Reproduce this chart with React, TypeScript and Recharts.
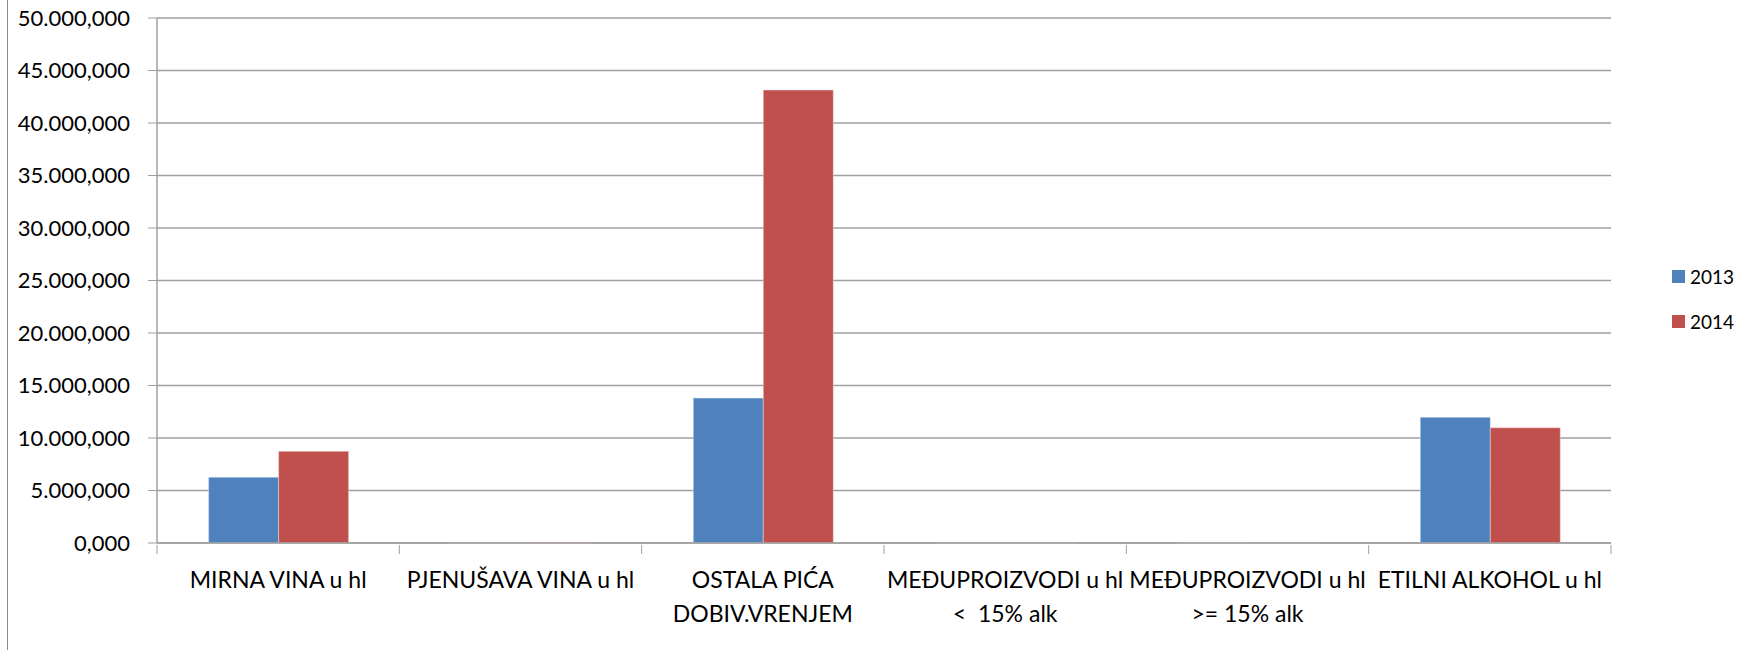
import { BarChart, Bar, XAxis, YAxis, CartesianGrid } from "recharts";

const categories = [
  "MIRNA VINA u hl",
  "PJENUŠAVA VINA u hl",
  "OSTALA PIĆA\nDOBIV.VRENJEM",
  "MEĐUPROIZVODI u hl\n<  15% alk",
  "MEĐUPROIZVODI u hl\n>= 15% alk",
  "ETILNI ALKOHOL u hl",
];
const values2013 = [6260, 20, 13800, 5, 10, 11970];
const values2014 = [8730, 60, 43140, 10, 15, 10980];
const yTicks = [0, 5000, 10000, 15000, 20000, 25000, 30000, 35000, 40000, 45000, 50000];
const seriesNames = ["2013", "2014"];
const seriesColors = ["#4f81bd", "#c0504d"];

const data = categories.map((name, i) => ({
  name,
  y2013: values2013[i],
  y2014: values2014[i],
}));

const FONT = "Lato, 'Open Sans', sans-serif";
const GRID = "#a0a0a0";

function formatNum(v: number) {
  const [int, dec] = v.toFixed(3).split(".");
  return int.replace(/\B(?=(\d{3})+(?!\d))/g, ".") + "," + dec;
}

function CategoryTick(props: any) {
  const { x, y, payload, index, width, visibleTicksCount } = props;
  const band = (width || 1454) / (visibleTicksCount || categories.length);
  const lines = String(payload.value).split("\n");
  return (
    <g>
      <line x1={x - band / 2} x2={x - band / 2} y1={y} y2={y + 9} stroke={GRID} />
      {index === categories.length - 1 && (
        <line x1={x + band / 2} x2={x + band / 2} y1={y} y2={y + 9} stroke={GRID} />
      )}
      {lines.map((l, i) => (
        <text
          key={i}
          x={x}
          y={y + 43 + i * 34}
          textAnchor="middle"
          fill="#000"
          fontSize={23}
          fontFamily={FONT}
          style={{ whiteSpace: "pre" }}
        >
          {l}
        </text>
      ))}
    </g>
  );
}

function LegendBox() {
  return (
    <div
      style={{
        position: "absolute",
        left: 1672,
        top: 254,
        fontFamily: FONT,
        fontSize: 19,
        color: "#000",
      }}
    >
      {seriesNames.map((label, i) => (
        <div key={label} style={{ display: "flex", alignItems: "center", height: 45 }}>
          <span style={{ width: 13, height: 13, background: seriesColors[i], marginRight: 5 }} />
          {label}
        </div>
      ))}
    </div>
  );
}

export default function App() {
  return (
    <div style={{ position: "absolute", left: 0, top: 0, width: 1743, height: 650 }}>
      <div
        style={{ position: "absolute", left: 7, top: 0, width: 1, height: 650, background: "#8c8c8c" }}
      />
      <BarChart
        width={1743}
        height={650}
        data={data}
        margin={{ top: 18, right: 132, bottom: 0, left: 0 }}
        barCategoryGap="21.3%"
        barGap={0}
      >
        <CartesianGrid vertical={false} stroke={GRID} strokeWidth={1.5} />
        <XAxis
          dataKey="name"
          interval={0}
          height={107}
          tickLine={false}
          tickSize={0}
          axisLine={{ stroke: GRID, strokeWidth: 1.5 }}
          tick={<CategoryTick />}
        />
        <YAxis
          width={157}
          domain={[0, 50000]}
          ticks={yTicks}
          tickFormatter={formatNum}
          tickSize={9}
          tickMargin={18}
          tickLine={{ stroke: GRID }}
          axisLine={{ stroke: GRID, strokeWidth: 1.5 }}
          tick={{ fontSize: 22, fill: "#000", fontFamily: FONT }}
        />
        <Bar dataKey="y2013" name={seriesNames[0]} fill={seriesColors[0]} stroke="#dbe5f1" strokeWidth={0.5} isAnimationActive={false} />
        <Bar dataKey="y2014" name={seriesNames[1]} fill={seriesColors[1]} stroke="#f2dcdb" strokeWidth={0.5} isAnimationActive={false} />
      </BarChart>
      <LegendBox />
    </div>
  );
}
